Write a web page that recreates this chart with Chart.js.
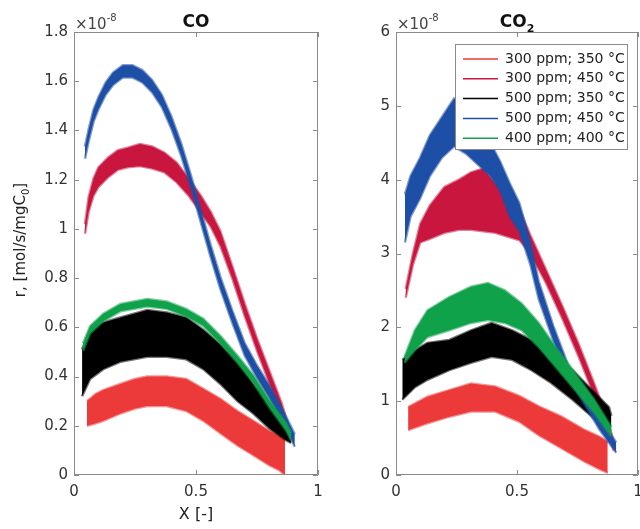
<!DOCTYPE html>
<html>
<head>
<meta charset="utf-8">
<title>CO and CO2 rates</title>
<script src="https://cdn.jsdelivr.net/npm/chart.js@4"></script>
<style>
  body { margin: 0; background: #fff; }
  #wrap { position: relative; width: 640px; height: 529px; overflow: hidden; }
  #coChart { position: absolute; left: 0; top: 0; }
  #co2Chart { position: absolute; left: 330px; top: 0; }
</style>
</head>
<body>
<div id="wrap">
  <canvas id="coChart" width="330" height="529"></canvas>
  <canvas id="co2Chart" width="310" height="529"></canvas>
</div>
<script>
// rates in units of 1e-8 mol/s/mgC0; each run is a noisy band, kept as lower / upper edge
const seriesNames = ['300 ppm; 350 °C', '300 ppm; 450 °C', '500 ppm; 350 °C', '500 ppm; 450 °C', '400 ppm; 400 °C'];
const seriesColors = ['#EC3A3A', '#C8163F', '#000000', '#1E4FA6', '#10A24A'];

const xTickLabels = ['0', '0.5', '1'];
const coYTickLabels = ['0', '0.2', '0.4', '0.6', '0.8', '1', '1.2', '1.4', '1.6', '1.8'];
const co2YTickLabels = ['0', '1', '2', '3', '4', '5', '6'];

// CO
const co300_350X  = [0.053, 0.09, 0.12, 0.19, 0.25, 0.30, 0.38, 0.46, 0.53, 0.60, 0.67, 0.735, 0.80, 0.84, 0.865];
const co300_350Lo = [0.20, 0.21, 0.22, 0.25, 0.27, 0.28, 0.28, 0.26, 0.22, 0.17, 0.12, 0.08, 0.04, 0.02, 0.00];
const co300_350Hi = [0.30, 0.33, 0.345, 0.37, 0.39, 0.40, 0.40, 0.39, 0.35, 0.31, 0.26, 0.22, 0.18, 0.16, 0.15];

const co300_450X  = [0.045, 0.06, 0.08, 0.10, 0.14, 0.18, 0.22, 0.27, 0.32, 0.37, 0.42, 0.47, 0.52, 0.56, 0.60, 0.65, 0.70, 0.75, 0.80, 0.85, 0.885];
const co300_450Lo = [0.98, 1.07, 1.135, 1.17, 1.21, 1.24, 1.25, 1.255, 1.245, 1.23, 1.19, 1.135, 1.065, 1.01, 0.93, 0.795, 0.645, 0.505, 0.375, 0.245, 0.14];
const co300_450Hi = [1.02, 1.13, 1.205, 1.25, 1.29, 1.32, 1.33, 1.345, 1.335, 1.31, 1.27, 1.205, 1.135, 1.07, 0.99, 0.845, 0.695, 0.555, 0.425, 0.295, 0.18];

const co500_350X  = [0.033, 0.066, 0.12, 0.19, 0.30, 0.38, 0.46, 0.53, 0.60, 0.67, 0.735, 0.80, 0.87, 0.89];
const co500_350Lo = [0.32, 0.39, 0.43, 0.46, 0.48, 0.48, 0.47, 0.43, 0.37, 0.30, 0.25, 0.19, 0.14, 0.13];
const co500_350Hi = [0.51, 0.59, 0.62, 0.64, 0.67, 0.66, 0.64, 0.59, 0.53, 0.46, 0.37, 0.29, 0.21, 0.18];

const co500_450X  = [0.045, 0.06, 0.08, 0.10, 0.13, 0.16, 0.20, 0.24, 0.28, 0.32, 0.36, 0.40, 0.44, 0.48, 0.52, 0.56, 0.60, 0.65, 0.70, 0.75, 0.80, 0.85, 0.905];
const co500_450Lo = [1.285, 1.355, 1.435, 1.485, 1.545, 1.585, 1.615, 1.615, 1.595, 1.555, 1.495, 1.405, 1.295, 1.165, 1.025, 0.885, 0.755, 0.615, 0.485, 0.395, 0.315, 0.225, 0.115];
const co500_450Hi = [1.335, 1.405, 1.485, 1.535, 1.595, 1.635, 1.665, 1.665, 1.645, 1.605, 1.545, 1.455, 1.345, 1.215, 1.075, 0.935, 0.805, 0.665, 0.535, 0.445, 0.365, 0.275, 0.165];

const co400_400X  = [0.037, 0.066, 0.12, 0.19, 0.30, 0.38, 0.46, 0.53, 0.60, 0.67, 0.735, 0.80, 0.87, 0.89];
const co400_400Lo = [0.505, 0.575, 0.625, 0.665, 0.685, 0.675, 0.645, 0.605, 0.535, 0.455, 0.375, 0.275, 0.18, 0.14];
const co400_400Hi = [0.535, 0.605, 0.655, 0.695, 0.715, 0.705, 0.675, 0.635, 0.565, 0.485, 0.405, 0.305, 0.21, 0.17];

// CO2
const co2_300_350X  = [0.05, 0.13, 0.22, 0.31, 0.41, 0.51, 0.59, 0.685, 0.78, 0.84, 0.875];
const co2_300_350Lo = [0.61, 0.70, 0.79, 0.86, 0.86, 0.72, 0.54, 0.36, 0.18, 0.08, 0.03];
const co2_300_350Hi = [0.92, 1.06, 1.15, 1.24, 1.20, 1.07, 0.93, 0.79, 0.61, 0.52, 0.45];

const co2_300_450X  = [0.04, 0.07, 0.10, 0.14, 0.20, 0.26, 0.31, 0.36, 0.41, 0.46, 0.51, 0.555, 0.62, 0.69, 0.755, 0.82, 0.865, 0.90];
const co2_300_450Lo = [2.40, 2.85, 3.15, 3.20, 3.28, 3.32, 3.32, 3.30, 3.28, 3.23, 3.18, 3.00, 2.60, 2.10, 1.60, 1.07, 0.70, 0.33];
const co2_300_450Hi = [2.52, 3.00, 3.40, 3.65, 3.90, 4.00, 4.10, 4.15, 3.95, 3.85, 3.60, 3.25, 2.78, 2.27, 1.77, 1.23, 0.84, 0.45];

const co2_500_350X  = [0.026, 0.078, 0.13, 0.22, 0.31, 0.395, 0.48, 0.56, 0.64, 0.73, 0.81, 0.88, 0.89];
const co2_500_350Lo = [1.02, 1.19, 1.29, 1.42, 1.52, 1.60, 1.56, 1.42, 1.25, 1.02, 0.79, 0.57, 0.50];
const co2_500_350Hi = [1.56, 1.69, 1.79, 1.83, 1.96, 2.06, 1.96, 1.83, 1.65, 1.42, 1.15, 0.92, 0.80];

const co2_500_450X  = [0.037, 0.06, 0.10, 0.14, 0.19, 0.24, 0.29, 0.34, 0.39, 0.43, 0.47, 0.51, 0.555, 0.59, 0.65, 0.71, 0.78, 0.84, 0.91];
const co2_500_450Lo = [3.15, 3.50, 3.75, 4.05, 4.30, 4.45, 4.35, 4.20, 4.05, 3.85, 3.50, 3.30, 2.85, 2.38, 1.82, 1.34, 0.95, 0.62, 0.30];
const co2_500_450Hi = [3.80, 4.05, 4.30, 4.60, 4.85, 5.10, 5.00, 4.80, 4.50, 4.25, 3.95, 3.68, 3.15, 2.62, 2.02, 1.50, 1.10, 0.78, 0.44];

const co2_400_400X  = [0.035, 0.078, 0.13, 0.22, 0.31, 0.38, 0.45, 0.52, 0.59, 0.66, 0.74, 0.82, 0.89];
const co2_400_400Lo = [1.52, 1.69, 1.87, 1.96, 2.06, 2.10, 2.06, 1.96, 1.73, 1.46, 1.15, 0.84, 0.52];
const co2_400_400Hi = [1.60, 1.96, 2.23, 2.41, 2.55, 2.60, 2.50, 2.32, 2.06, 1.73, 1.38, 1.02, 0.65];

const FONT = '"DejaVu Sans", sans-serif';

function withAlpha(hex, a) {
  const n = parseInt(hex.slice(1), 16);
  return 'rgba(' + (n >> 16) + ',' + ((n >> 8) & 255) + ',' + (n & 255) + ',' + a + ')';
}

// one band = lower edge line + upper edge line filled down to it;
// the soft, wide edge stroke stands in for the measurement noise
function band(idx, xs, lo, hi) {
  const pts = arr => xs.map((x, i) => ({ x: x, y: arr[i] }));
  const c = seriesColors[idx];
  const common = { label: seriesNames[idx], borderColor: withAlpha(c, 0.55), backgroundColor: c,
                   borderWidth: 2.5, pointRadius: 0, tension: 0 };
  return [
    Object.assign({ data: pts(lo), fill: false }, common),
    Object.assign({ data: pts(hi), fill: '-1' }, common)
  ];
}

// frame, inward ticks, title, exponent, axis titles, legend
const decorPlugin = {
  id: 'decor',
  afterDatasetsDraw(chart, args, o) {
    const { ctx, chartArea: a, scales: { x, y } } = chart;
    ctx.save();

    ctx.strokeStyle = '#8a8a8a';
    ctx.lineWidth = 1;
    ctx.beginPath();
    ctx.rect(a.left + 0.5, a.top + 0.5, a.right - a.left - 1, a.bottom - a.top - 1);
    x.ticks.forEach(t => {
      const px = Math.round(x.getPixelForValue(t.value)) + 0.5;
      ctx.moveTo(px, a.bottom); ctx.lineTo(px, a.bottom - 5);
      ctx.moveTo(px, a.top); ctx.lineTo(px, a.top + 5);
    });
    y.ticks.forEach(t => {
      const py = Math.round(y.getPixelForValue(t.value)) + 0.5;
      ctx.moveTo(a.left, py); ctx.lineTo(a.left + 5, py);
      ctx.moveTo(a.right, py); ctx.lineTo(a.right - 5, py);
    });
    ctx.stroke();

    ctx.textAlign = 'left';
    ctx.textBaseline = 'alphabetic';

    // panel title, optional subscript
    const cx = (a.left + a.right) / 2;
    ctx.fillStyle = '#111';
    ctx.font = 'bold 17px ' + FONT;
    const mainW = ctx.measureText(o.title).width;
    ctx.font = 'bold 11px ' + FONT;
    const subW = o.titleSub ? ctx.measureText(o.titleSub).width : 0;
    const tx = cx - (mainW + subW) / 2;
    ctx.font = 'bold 17px ' + FONT;
    ctx.fillText(o.title, tx, a.top - 5);
    if (o.titleSub) {
      ctx.font = 'bold 11px ' + FONT;
      ctx.fillText(o.titleSub, tx + mainW, a.top);
    }

    // x10^-8 multiplier
    ctx.fillStyle = '#444';
    ctx.font = '15px ' + FONT;
    ctx.fillText('\u00d710', a.left + 1, a.top - 3);
    const ew = ctx.measureText('\u00d710').width;
    ctx.font = '10px ' + FONT;
    ctx.fillText('-8', a.left + 1 + ew, a.top - 11);

    ctx.fillStyle = '#222';
    if (o.yTitle) {
      ctx.save();
      ctx.translate(21, 240);
      ctx.rotate(-Math.PI / 2);
      ctx.textBaseline = 'middle';
      ctx.font = '15px ' + FONT;
      const p1 = 'r, [mol/s/mgC', p3 = ']';
      const w1 = ctx.measureText(p1).width, w3 = ctx.measureText(p3).width;
      ctx.font = '10px ' + FONT;
      const w2 = ctx.measureText('0').width;
      const sx = -(w1 + w2 + w3) / 2;
      ctx.font = '15px ' + FONT;
      ctx.fillText(p1, sx, 0);
      ctx.font = '10px ' + FONT;
      ctx.fillText('0', sx + w1, 5);
      ctx.font = '15px ' + FONT;
      ctx.fillText(p3, sx + w1 + w2, 0);
      ctx.restore();
    }

    if (o.xTitle) {
      ctx.textAlign = 'center';
      ctx.textBaseline = 'middle';
      ctx.font = '16px ' + FONT;
      ctx.fillText(o.xTitle, cx, a.bottom + 40);
    }

    if (o.legend) {
      const bw = 172, bh = 105;
      const bx = a.right - 11 - bw, by = a.top + 12;
      ctx.fillStyle = '#fff';
      ctx.fillRect(bx, by, bw, bh);
      ctx.strokeStyle = '#8a8a8a';
      ctx.lineWidth = 1;
      ctx.strokeRect(bx + 0.5, by + 0.5, bw, bh);
      ctx.textAlign = 'left';
      ctx.textBaseline = 'middle';
      ctx.font = '14px ' + FONT;
      seriesNames.forEach((name, i) => {
        const ry = by + 15 + i * 19.8;
        ctx.strokeStyle = seriesColors[i];
        ctx.lineWidth = 1.5;
        ctx.beginPath();
        ctx.moveTo(bx + 8, ry); ctx.lineTo(bx + 43, ry);
        ctx.stroke();
        ctx.fillStyle = '#222';
        ctx.fillText(name, bx + 50, ry);
      });
    }
    ctx.restore();
  }
};

function makeChart(id, datasets, yMax, yStep, yLabels, yWidth, padRight, decor) {
  const tickFont = { family: FONT, size: 15 };
  return new Chart(document.getElementById(id), {
    type: 'line',
    data: { datasets: datasets },
    options: {
      responsive: false,
      animation: false,
      events: [],
      layout: { padding: { top: 32, right: padRight, left: 0, bottom: 0 } },
      scales: {
        x: {
          type: 'linear', min: 0, max: 1,
          grid: { display: false, drawTicks: false },
          border: { display: false },
          ticks: { stepSize: 0.5, padding: 8, color: '#333', font: tickFont, maxRotation: 0,
                   callback: (v, i) => xTickLabels[i] },
          afterFit: s => { s.height = 54; s.paddingLeft = 0; s.paddingRight = 0; }
        },
        y: {
          type: 'linear', min: 0, max: yMax,
          grid: { display: false, drawTicks: false },
          border: { display: false },
          ticks: { stepSize: yStep, padding: 6, color: '#333', font: tickFont,
                   callback: (v, i) => yLabels[i] },
          afterFit: s => { s.width = yWidth; s.paddingTop = 0; s.paddingBottom = 0; }
        }
      },
      plugins: { legend: { display: false }, tooltip: { enabled: false }, decor: decor }
    },
    plugins: [decorPlugin]
  });
}

// first dataset ends up on top, so green goes first
const coSets = [].concat(
  band(4, co400_400X, co400_400Lo, co400_400Hi),
  band(3, co500_450X, co500_450Lo, co500_450Hi),
  band(2, co500_350X, co500_350Lo, co500_350Hi),
  band(1, co300_450X, co300_450Lo, co300_450Hi),
  band(0, co300_350X, co300_350Lo, co300_350Hi)
);
const co2Sets = [].concat(
  band(4, co2_400_400X, co2_400_400Lo, co2_400_400Hi),
  band(3, co2_500_450X, co2_500_450Lo, co2_500_450Hi),
  band(2, co2_500_350X, co2_500_350Lo, co2_500_350Hi),
  band(1, co2_300_450X, co2_300_450Lo, co2_300_450Hi),
  band(0, co2_300_350X, co2_300_350Lo, co2_300_350Hi)
);

makeChart('coChart', coSets, 1.8, 0.2, coYTickLabels, 74, 12,
  { title: 'CO', titleSub: '', yTitle: true, xTitle: 'X [-]', legend: false });
makeChart('co2Chart', co2Sets, 6, 1, co2YTickLabels, 66, 2,
  { title: 'CO', titleSub: '2', yTitle: false, xTitle: '', legend: true });
</script>
</body>
</html>
